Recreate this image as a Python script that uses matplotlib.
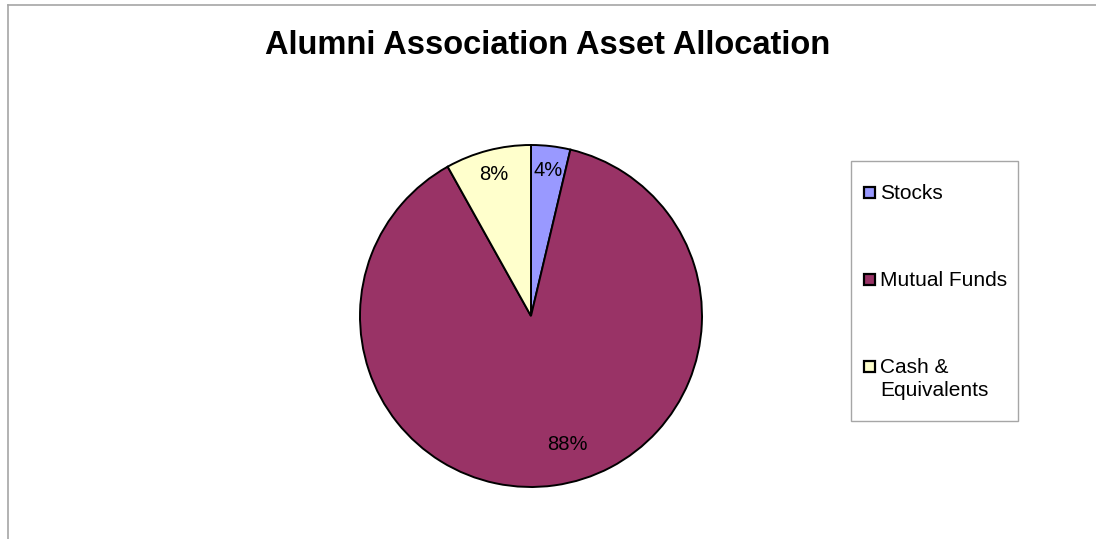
import matplotlib
matplotlib.use('Agg')
from matplotlib import pyplot as plt
from matplotlib.lines import Line2D
from matplotlib.patches import Rectangle

categories = ['Stocks', 'Mutual Funds', 'Cash &\nEquivalents']
shares = [3.7, 88.2, 8.1]
colors = ['#9999FF', '#993366', '#FFFFCC']

plt.rcParams['font.family'] = ['Liberation Sans', 'DejaVu Sans']

W, H = 1096, 539
fig = plt.figure(figsize=(W / 100, H / 100), dpi=100)
fig.patch.set_facecolor('white')

# chart area border (top + left only visible)
fig.add_artist(Line2D([8 / W, 1], [1 - 5 / H, 1 - 5 / H], color='#a6a6a6', lw=1.2))
fig.add_artist(Line2D([8 / W, 8 / W], [0, 1 - 5 / H], color='#a6a6a6', lw=1.2))

fig.text(548 / W, 1 - 45 / H, 'Alumni Association Asset Allocation',
         ha='center', va='center', fontsize=23.5, fontweight='bold')

cx, cy, r = 531, H - 316, 171
ax = fig.add_axes([(cx - r) / W, (cy - r) / H, 2 * r / W, 2 * r / H])
wedges, texts, autotexts = ax.pie(
    shares, colors=colors, startangle=90, counterclock=False,
    autopct=lambda p: f'{p:.0f}%', pctdistance=0.855,
    wedgeprops={'edgecolor': 'black', 'linewidth': 1.4},
    textprops={'fontsize': 14.5, 'color': 'black'},
)
autotexts[1].set_position((0.21, -0.75))
ax.set_xlim(-1, 1)
ax.set_ylim(-1, 1)
ax.set_aspect('equal')
ax.axis('off')

# legend drawn by hand
fig.add_artist(Rectangle((851 / W, 1 - 421 / H), 167 / W, 260 / H,
                         transform=fig.transFigure, facecolor='white',
                         edgecolor='#a6a6a6', lw=1.0))
ys = [192, 279, 366]
for name, col, y in zip(categories, colors, ys):
    fig.add_artist(Rectangle((864 / W, 1 - (y + 5.5) / H), 11 / W, 11 / H,
                             transform=fig.transFigure, facecolor=col,
                             edgecolor='black', lw=1.6))
    fig.text(880 / W, 1 - (y - 8) / H, name, ha='left', va='top',
             fontsize=15, linespacing=1.3)

fig.savefig('out.png', dpi=100, facecolor='white')
